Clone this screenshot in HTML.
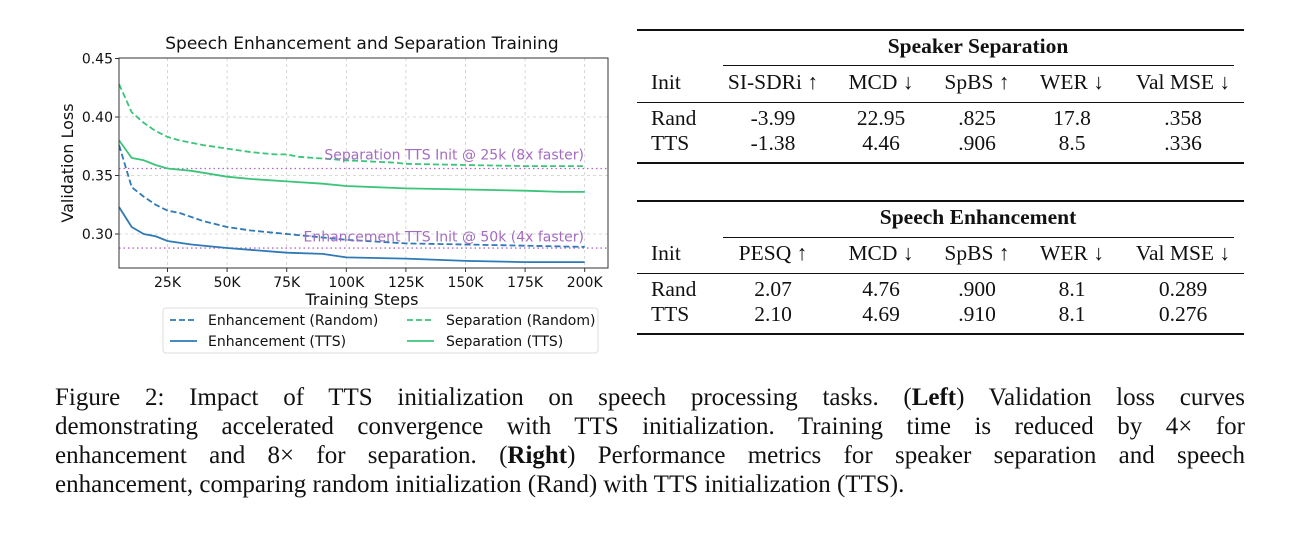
<!DOCTYPE html>
<html><head><meta charset="utf-8">
<style>
body{margin:0;width:1301px;height:540px;background:#fff;position:relative;overflow:hidden}
.t{position:absolute;font-family:"Liberation Serif",serif;font-size:21.5px;color:#111;white-space:nowrap}
.c{transform:translateX(-50%)}
.hl{position:absolute;background:#111}
.cap{position:absolute;left:55px;width:1190px;font-family:"Liberation Serif",serif;font-size:25px;line-height:29px;color:#111;text-align:justify;text-align-last:justify;white-space:nowrap}
</style></head><body>
<svg id="ch" width="640" height="370" style="position:absolute;left:0;top:0" font-family="DejaVu Sans, sans-serif"></svg>

<!-- Table 1 -->
<div class="hl" style="left:637px;top:29px;width:607px;height:2px"></div>
<div class="t c" style="left:978px;top:34px;font-weight:bold">Speaker Separation</div>
<div class="hl" style="left:723px;top:65px;width:511px;height:1px"></div>
<div class="t" style="left:651px;top:70px">Init</div>
<div class="t c" style="left:773px;top:70px">SI-SDRi ↑</div>
<div class="t c" style="left:881px;top:70px">MCD ↓</div>
<div class="t c" style="left:977px;top:70px">SpBS ↑</div>
<div class="t c" style="left:1072px;top:70px">WER ↓</div>
<div class="t c" style="left:1183px;top:70px">Val MSE ↓</div>
<div class="hl" style="left:637px;top:102px;width:607px;height:1px"></div>
<div class="t" style="left:651px;top:106px">Rand</div>
<div class="t c" style="left:773px;top:106px">-3.99</div>
<div class="t c" style="left:881px;top:106px">22.95</div>
<div class="t c" style="left:977px;top:106px">.825</div>
<div class="t c" style="left:1072px;top:106px">17.8</div>
<div class="t c" style="left:1183px;top:106px">.358</div>
<div class="t" style="left:651px;top:131px">TTS</div>
<div class="t c" style="left:773px;top:131px">-1.38</div>
<div class="t c" style="left:881px;top:131px">4.46</div>
<div class="t c" style="left:977px;top:131px">.906</div>
<div class="t c" style="left:1072px;top:131px">8.5</div>
<div class="t c" style="left:1183px;top:131px">.336</div>
<div class="hl" style="left:637px;top:162px;width:607px;height:2px"></div>

<!-- Table 2 -->
<div class="hl" style="left:637px;top:200px;width:607px;height:2px"></div>
<div class="t c" style="left:978px;top:205px;font-weight:bold">Speech Enhancement</div>
<div class="hl" style="left:723px;top:237px;width:511px;height:1px"></div>
<div class="t" style="left:651px;top:241px">Init</div>
<div class="t c" style="left:773px;top:241px">PESQ ↑</div>
<div class="t c" style="left:881px;top:241px">MCD ↓</div>
<div class="t c" style="left:977px;top:241px">SpBS ↑</div>
<div class="t c" style="left:1072px;top:241px">WER ↓</div>
<div class="t c" style="left:1183px;top:241px">Val MSE ↓</div>
<div class="hl" style="left:637px;top:273px;width:607px;height:1px"></div>
<div class="t" style="left:651px;top:277px">Rand</div>
<div class="t c" style="left:773px;top:277px">2.07</div>
<div class="t c" style="left:881px;top:277px">4.76</div>
<div class="t c" style="left:977px;top:277px">.900</div>
<div class="t c" style="left:1072px;top:277px">8.1</div>
<div class="t c" style="left:1183px;top:277px">0.289</div>
<div class="t" style="left:651px;top:302px">TTS</div>
<div class="t c" style="left:773px;top:302px">2.10</div>
<div class="t c" style="left:881px;top:302px">4.69</div>
<div class="t c" style="left:977px;top:302px">.910</div>
<div class="t c" style="left:1072px;top:302px">8.1</div>
<div class="t c" style="left:1183px;top:302px">0.276</div>
<div class="hl" style="left:637px;top:333px;width:607px;height:2px"></div>

<div class="cap" style="top:383px">Figure 2: Impact of TTS initialization on speech processing tasks. (<b>Left</b>) Validation loss curves</div>
<div class="cap" style="top:412px">demonstrating accelerated convergence with TTS initialization. Training time is reduced by 4× for</div>
<div class="cap" style="top:441px">enhancement and 8× for separation. (<b>Right</b>) Performance metrics for speaker separation and speech</div>
<div class="cap" style="top:470px;text-align-last:left">enhancement, comparing random initialization (Rand) with TTS initialization (TTS).</div>

<script>
const X=k=>167.5+(k-25)/25*59.6, Y=v=>234-(v-0.3)*1170;
const L=119,R=608,T=58,B=268;
let s='';
for(let k=25;k<=200;k+=25){s+=`<line x1="${X(k)}" y1="${T}" x2="${X(k)}" y2="${B}" stroke="#ccc" stroke-width="0.8" stroke-dasharray="3,3"/>`;}
for(const v of [0.30,0.35,0.40]){s+=`<line x1="${L}" y1="${Y(v)}" x2="${R}" y2="${Y(v)}" stroke="#ccc" stroke-width="0.8" stroke-dasharray="3,3"/>`;}
const P=a=>a.map(([k,v])=>X(k).toFixed(1)+','+Y(v).toFixed(1)).join(' ');
const sr=[[4.7,0.428],[10,0.404],[15,0.395],[20,0.388],[25,0.383],[30,0.380],[35,0.378],[40,0.376],[50,0.373],[60,0.370],[70,0.368],[75,0.368],[80,0.366],[100,0.363],[120,0.361],[125,0.360],[150,0.359],[175,0.358],[200,0.358]];
const st=[[4.7,0.380],[10,0.365],[15,0.363],[20,0.359],[25,0.356],[35,0.354],[50,0.349],[60,0.347],[75,0.345],[90,0.343],[100,0.341],[125,0.339],[150,0.338],[175,0.337],[190,0.336],[200,0.336]];
const er=[[4.7,0.376],[10,0.340],[15,0.332],[20,0.325],[25,0.320],[30,0.318],[40,0.311],[50,0.306],[60,0.303],[75,0.300],[100,0.295],[125,0.292],[150,0.291],[175,0.290],[200,0.289]];
const et=[[4.7,0.323],[10,0.306],[15,0.300],[20,0.298],[25,0.294],[35,0.291],[50,0.288],[75,0.284],[90,0.283],[100,0.280],[125,0.279],[150,0.277],[175,0.276],[200,0.276]];
const G='#3cc47a',Bl='#2f79b5';
s+=`<line x1="${L}" y1="${Y(0.356)}" x2="${R}" y2="${Y(0.356)}" stroke="#b565c8" stroke-width="1.3" stroke-dasharray="1.5,3"/>`;
s+=`<line x1="${L}" y1="${Y(0.288)}" x2="${R}" y2="${Y(0.288)}" stroke="#b565c8" stroke-width="1.3" stroke-dasharray="1.5,3"/>`;
s+=`<polyline points="${P(sr)}" fill="none" stroke="${G}" stroke-width="1.8" stroke-dasharray="6,3"/>`;
s+=`<polyline points="${P(st)}" fill="none" stroke="${G}" stroke-width="1.8"/>`;
s+=`<polyline points="${P(er)}" fill="none" stroke="${Bl}" stroke-width="1.8" stroke-dasharray="6,3"/>`;
s+=`<polyline points="${P(et)}" fill="none" stroke="${Bl}" stroke-width="1.8"/>`;
s+=`<text x="584" y="${Y(0.3635)}" font-size="14" fill="#a46cc0" text-anchor="end">Separation TTS Init @ 25k (8x faster)</text>`;
s+=`<text x="584" y="${Y(0.2935)}" font-size="14" fill="#a46cc0" text-anchor="end">Enhancement TTS Init @ 50k (4x faster)</text>`;
s+=`<rect x="${L}" y="${T}" width="${R-L}" height="${B-T}" fill="none" stroke="#333" stroke-width="1"/>`;
for(const v of [0.30,0.35,0.40,0.45]){s+=`<line x1="${L-4}" y1="${Y(v)}" x2="${L}" y2="${Y(v)}" stroke="#333"/><text x="${L-6}" y="${Y(v)+5}" font-size="14" text-anchor="end" fill="#111">${v.toFixed(2)}</text>`;}
for(let k=25;k<=200;k+=25){s+=`<line x1="${X(k)}" y1="${B}" x2="${X(k)}" y2="${B+4}" stroke="#333"/><text x="${X(k)}" y="${B+19}" font-size="14" text-anchor="middle" fill="#111">${k}K</text>`;}
s+=`<text x="362" y="49" font-size="17" text-anchor="middle" fill="#111">Speech Enhancement and Separation Training</text>`;
s+=`<text x="362" y="305" font-size="16" text-anchor="middle" fill="#111">Training Steps</text>`;
s+=`<text transform="translate(73,163) rotate(-90)" font-size="16" text-anchor="middle" fill="#111">Validation Loss</text>`;
s+=`<rect x="163" y="308" width="435" height="45" rx="3" fill="#fff" stroke="#ddd"/>`;
s+=`<line x1="170" y1="320" x2="197" y2="320" stroke="${Bl}" stroke-width="1.8" stroke-dasharray="6,3"/><text x="208" y="325" font-size="14" fill="#111">Enhancement (Random)</text>`;
s+=`<line x1="170" y1="341" x2="197" y2="341" stroke="${Bl}" stroke-width="1.8"/><text x="208" y="346" font-size="14" fill="#111">Enhancement (TTS)</text>`;
s+=`<line x1="407" y1="320" x2="434" y2="320" stroke="${G}" stroke-width="1.8" stroke-dasharray="6,3"/><text x="446" y="325" font-size="14" fill="#111">Separation (Random)</text>`;
s+=`<line x1="407" y1="341" x2="434" y2="341" stroke="${G}" stroke-width="1.8"/><text x="446" y="346" font-size="14" fill="#111">Separation (TTS)</text>`;
document.getElementById('ch').innerHTML=s;
</script>
</body></html>
